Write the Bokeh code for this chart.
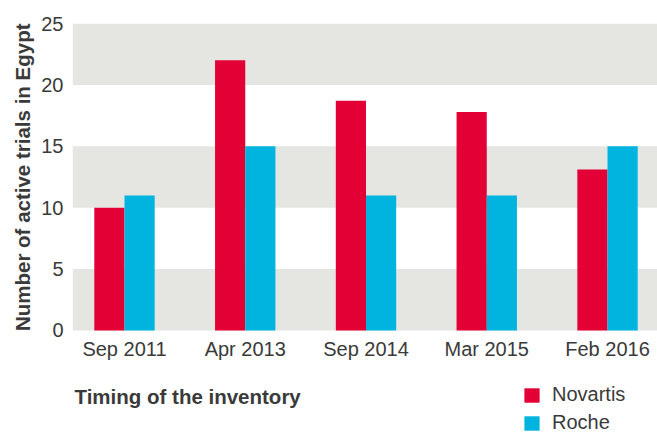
from bokeh.plotting import figure
from bokeh.models import (Range1d, FixedTicker, BoxAnnotation, Legend, LegendItem, Label, Title)
from bokeh.transform import dodge
from bokeh.embed import file_html
from bokeh.resources import INLINE

# Data
categories = ["Sep 2011", "Apr 2013", "Sep 2014", "Mar 2015", "Feb 2016"]
novartis = [10, 22, 18.7, 17.8, 13.1]
roche = [11, 15, 11, 11, 15]
y_ticks = [0, 5, 10, 15, 20, 25]
band_edges = [(0, 5), (10, 15), (20, 25)]

RED = "#E30034"
BLUE = "#00B4E0"
GRAY = "#E5E5E1"
TEXT = "#3a3a3a"

xs = list(range(len(categories)))

p = figure(width=657, height=432, output_backend="svg", toolbar_location=None,
           x_range=Range1d(-0.4306, 4.414), y_range=Range1d(-8.31, 25),
           min_border_left=72, min_border_right=0, min_border_top=23, min_border_bottom=0)
p.outline_line_color = None
p.xgrid.visible = False
p.ygrid.visible = False

for lo, hi in band_edges:
    p.add_layout(BoxAnnotation(bottom=lo, top=hi, fill_color=GRAY, fill_alpha=1.0,
                               line_color=None, level="underlay"))

src = dict(x=xs, novartis=novartis, roche=roche)
r1 = p.vbar(x=dodge("x", -0.125), top="novartis", width=0.25, source=src,
            fill_color=RED, line_color=None)
r2 = p.vbar(x=dodge("x", 0.125), top="roche", width=0.25, source=src,
            fill_color=BLUE, line_color=None)

# Axes
p.xaxis.fixed_location = 0
p.xaxis.ticker = FixedTicker(ticks=xs)
p.xaxis.major_label_overrides = {i: c for i, c in enumerate(categories)}
p.yaxis.ticker = FixedTicker(ticks=y_ticks)
for ax in (p.xaxis[0], p.yaxis[0]):
    ax.axis_line_color = None
    ax.major_tick_line_color = None
    ax.minor_tick_line_color = None
    ax.major_label_text_font = "Liberation Sans"
    ax.major_label_text_font_size = "20px"
    ax.major_label_text_color = TEXT
p.xaxis.major_label_standoff = 2
p.yaxis.major_label_standoff = 3

p.add_layout(Title(text="Number of active trials in Egypt", align="right", offset=0,
                   text_font="Liberation Sans", text_font_style="bold",
                   text_font_size="20.5px", text_color=TEXT, standoff=10), "left")

p.add_layout(Label(x=-0.414, y=-5.37, text="Timing of the inventory",
                   text_font="Liberation Sans", text_font_style="bold",
                   text_font_size="20.5px", text_color=TEXT,
                   text_baseline="alphabetic", text_align="left"))

legend = Legend(items=[LegendItem(label="Novartis", renderers=[r1]),
                       LegendItem(label="Roche", renderers=[r2])],
                location=(450, -2), orientation="vertical",
                glyph_width=19, glyph_height=18, label_height=18,
                label_standoff=11, spacing=5, padding=0, margin=0,
                border_line_color=None, background_fill_alpha=0,
                label_text_font="Liberation Sans", label_text_font_size="20px",
                label_text_color=TEXT)
p.add_layout(legend, "center")

open("out.html", "w").write(file_html(p, INLINE))
